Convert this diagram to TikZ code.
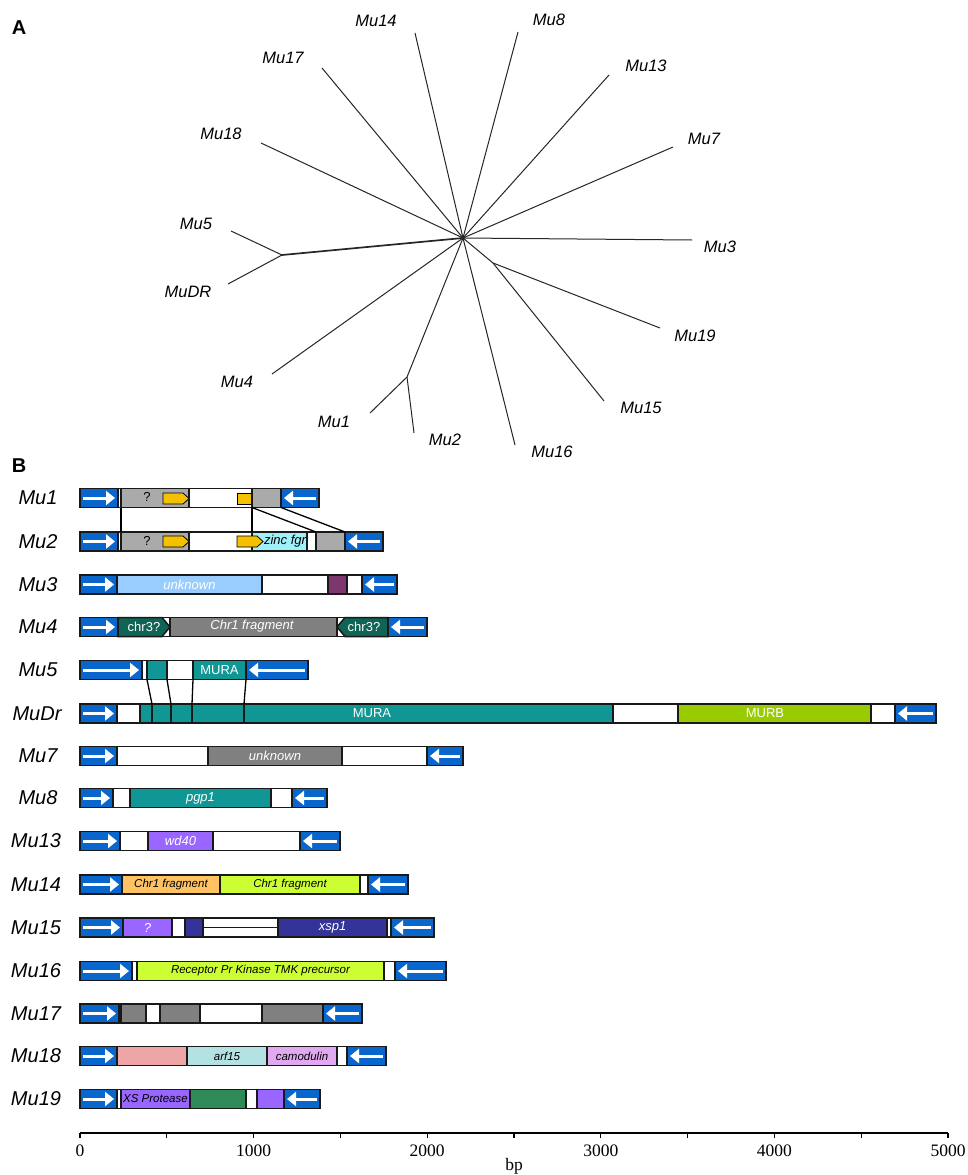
\documentclass[tikz,border=0pt]{standalone}
\usepackage{fontspec}
\setmainfont{Liberation Sans}
\newfontfamily\axisfont{Liberation Serif}
\usetikzlibrary{arrows.meta}
\definecolor{tirblue}{RGB}{8,102,204}
\definecolor{lgray}{RGB}{170,170,170}
\definecolor{dgray}{RGB}{128,128,128}
\definecolor{gold}{RGB}{245,192,0}
\definecolor{zinc}{RGB}{160,240,250}
\definecolor{lblue}{RGB}{153,204,255}
\definecolor{plum}{RGB}{125,55,110}
\definecolor{dteal}{RGB}{15,100,85}
\definecolor{tealm}{RGB}{16,150,148}
\definecolor{murb}{RGB}{153,204,0}
\definecolor{violetm}{RGB}{153,102,255}
\definecolor{lorange}{RGB}{255,195,100}
\definecolor{limem}{RGB}{204,255,51}
\definecolor{navym}{RGB}{51,51,153}
\definecolor{pinkm}{RGB}{238,165,165}
\definecolor{lcyan}{RGB}{180,225,225}
\definecolor{lviolet}{RGB}{225,170,240}
\definecolor{greenm}{RGB}{46,139,87}
\newcounter{segc}
\newcommand{\seg}[6]{\stepcounter{segc}%
  \draw[bar,fill=#4] (#1,#3-9.5) rectangle (#2,#3+9.5);
  \node[#5] (s\arabic{segc}) at ({(#1+#2)/2},#3) {#6};}
\newcommand{\tirR}[3]{\draw[bar,fill=tirblue] (#1,#3-9.5) rectangle (#2,#3+9.5);
  \draw[tirarrow] (#1+3,#3) -- (#2-3,#3);}
\newcommand{\tirL}[3]{\draw[bar,fill=tirblue] (#1,#3-9.5) rectangle (#2,#3+9.5);
  \draw[tirarrow] (#2-3,#3) -- (#1+3,#3);}
\begin{document}
\begin{tikzpicture}[x=1pt,y=-1pt,
  bar/.style={draw=black!90,line width=1.5pt},
  tirarrow/.style={draw=white,line width=3pt,-{Triangle[length=9pt,width=14pt,fill=white]}},
  tline/.style={draw=black!85,line width=1pt},
  tlab/.style={font=\fontsize{16.5}{16.5}\selectfont\itshape,inner sep=0pt},
  rowlab/.style={font=\fontsize{20}{20}\selectfont\itshape,inner sep=0pt},
  itw/.style={font=\fontsize{13}{13}\selectfont\itshape,text=white,inner sep=0pt},
  upw/.style={font=\fontsize{13}{13}\selectfont,text=white,inner sep=0pt},
  itb/.style={font=\fontsize{13}{13}\selectfont\itshape,text=black,inner sep=0pt},
  smb/.style={font=\fontsize{11.5}{11.5}\selectfont\itshape,text=black,inner sep=0pt},
  upb/.style={font=\fontsize{13}{13}\selectfont,text=black,inner sep=0pt},
  nolab/.style={inner sep=0pt},
  ytick/.style={draw=black,line width=1.2pt},
  axlab/.style={font=\axisfont\fontsize{17.5}{17.5}\selectfont,inner sep=0pt},
  panel/.style={font=\fontsize{20}{20}\selectfont\bfseries,inner sep=0pt},
  yarrow/.style={draw=black,line width=0.8pt,fill=gold},
  conn/.style={draw=black,line width=1.3pt}
]
\useasboundingbox (0,0) rectangle (968,1175);
\fill[white] (0,0) rectangle (968,1175);
% ---------------- panel labels
\node[panel] (pA) at (19,28) {A};
\node[panel] (pB) at (19,466) {B};
% ---------------- tree A
\coordinate (C) at (463,238);
\coordinate (e14) at (415,33);
\coordinate (e8) at (518,32);
\coordinate (e17) at (322,68);
\coordinate (e13) at (609,75);
\coordinate (e18) at (261,143);
\coordinate (e7) at (673,147);
\coordinate (e3) at (692,240);
\coordinate (n56) at (282,255);
\coordinate (e5) at (231,231);
\coordinate (eDR) at (228,284);
\coordinate (e4) at (272,374);
\coordinate (n12) at (407,377);
\coordinate (e1) at (370,413);
\coordinate (e2) at (414,433);
\coordinate (e16) at (515,445);
\coordinate (nj) at (493,263);
\coordinate (e19) at (660,328);
\coordinate (e15) at (604,401);
\draw[tline] (C) -- (e14);
\draw[tline] (C) -- (e8);
\draw[tline] (C) -- (e17);
\draw[tline] (C) -- (e13);
\draw[tline] (C) -- (e18);
\draw[tline] (C) -- (e7);
\draw[tline] (C) -- (e3);
\draw[tline,line width=1.7pt] (C) -- (n56);
\draw[tline] (n56) -- (e5);
\draw[tline] (n56) -- (eDR);
\draw[tline] (C) -- (e4);
\draw[tline] (C) -- (n12);
\draw[tline] (n12) -- (e1);
\draw[tline] (n12) -- (e2);
\draw[tline] (C) -- (e16);
\draw[tline] (C) -- (nj);
\draw[tline] (nj) -- (e19);
\draw[tline] (nj) -- (e15);
\node[tlab] (t14) at (376,21) {Mu14};
\node[tlab] (t8) at (549,20) {Mu8};
\node[tlab] (t17) at (283,58) {Mu17};
\node[tlab] (t13) at (646,66) {Mu13};
\node[tlab] (t18) at (221,134) {Mu18};
\node[tlab] (t7) at (704,139) {Mu7};
\node[tlab] (t5) at (196,224) {Mu5};
\node[tlab] (t3) at (720,247) {Mu3};
\node[tlab] (tDR) at (188,292) {MuDR};
\node[tlab] (t19) at (695,336) {Mu19};
\node[tlab] (t4) at (237,382) {Mu4};
\node[tlab] (t15) at (641,408) {Mu15};
\node[tlab] (t1) at (334,422) {Mu1};
\node[tlab] (t2) at (445,440) {Mu2};
\node[tlab] (t16) at (552,452) {Mu16};
% ---------------- row labels
\node[rowlab] (r1) at (38,498) {Mu1};
\node[rowlab] (r2) at (38,541.5) {Mu2};
\node[rowlab] (r3) at (38,584.5) {Mu3};
\node[rowlab] (r4) at (38,627) {Mu4};
\node[rowlab] (r5) at (38,670) {Mu5};
\node[rowlab] (rDr) at (37,713.5) {MuDr};
\node[rowlab] (r7) at (38,756) {Mu7};
\node[rowlab] (r8) at (38,798) {Mu8};
\node[rowlab] (r13) at (36,841) {Mu13};
\node[rowlab] (r14) at (36,884.5) {Mu14};
\node[rowlab] (r15) at (36,927.5) {Mu15};
\node[rowlab] (r16) at (36,971) {Mu16};
\node[rowlab] (r17) at (36,1013.5) {Mu17};
\node[rowlab] (r18) at (36,1056) {Mu18};
\node[rowlab] (r19) at (36,1099) {Mu19};
% ---------------- Mu1
\tirR{80}{118}{498}
\seg{118}{121}{498}{white}{nolab}{}
\seg{121}{189}{498}{lgray}{nolab}{}
\node[upb] (q1) at (147,497) {?};
\draw[yarrow] (163,493) -- (183,493) -- (189,498.5) -- (183,504) -- (163,504) -- cycle;
\seg{189}{252}{498}{white}{nolab}{}
\draw[yarrow] (237,493) rectangle (252,504);
\seg{252}{281}{498}{lgray}{nolab}{}
\tirL{281}{319}{498}
% ---------------- Mu2
\tirR{80}{118}{541.5}
\seg{118}{121}{541.5}{white}{nolab}{}
\seg{121}{189}{541.5}{lgray}{nolab}{}
\node[upb] (q2) at (147,540.5) {?};
\draw[yarrow] (163,536) -- (183,536) -- (189,541.5) -- (183,547) -- (163,547) -- cycle;
\seg{189}{252}{541.5}{white}{nolab}{}
\seg{252}{307}{541.5}{zinc}{nolab}{}
\node[itb] (zf) at (285,541) {zinc fgr};
\draw[yarrow] (237,536) -- (257,536) -- (263,541.5) -- (257,547) -- (237,547) -- cycle;
\seg{307}{316}{541.5}{white}{nolab}{}
\seg{316}{345}{541.5}{lgray}{nolab}{}
\tirL{345}{383}{541.5}
% connectors Mu1-Mu2
\coordinate (a1) at (121,507.5); \coordinate (a2) at (121,532);
\coordinate (b1) at (252,507.5); \coordinate (b2) at (252,532);
\coordinate (c2) at (316,532);
\coordinate (d1) at (281,507.5); \coordinate (d2) at (345,532);
\draw[conn] (a1) -- (a2);
\draw[conn] (b1) -- (b2);
\draw[conn] (b1) -- (c2);
\draw[conn] (d1) -- (d2);
% ---------------- Mu3
\tirR{80}{117}{584.5}
\seg{117}{262}{584.5}{lblue}{itw}{unknown}
\seg{262}{328}{584.5}{white}{nolab}{}
\seg{328}{347}{584.5}{plum}{nolab}{}
\seg{347}{362}{584.5}{white}{nolab}{}
\tirL{362}{397}{584.5}
% ---------------- Mu4
\tirR{80}{118}{627}
\draw[bar,fill=white] (118,617.5) rectangle (388,636.5);
\draw[bar,fill=dgray] (170,617.5) rectangle (337,636.5);
\draw[bar,fill=dteal] (118,617.5) -- (162,617.5) -- (170,627) -- (162,636.5) -- (118,636.5) -- cycle;
\draw[bar,fill=dteal] (388,617.5) -- (345,617.5) -- (337,627) -- (345,636.5) -- (388,636.5) -- cycle;
\node[upw] (c3a) at (144,627) {chr3?};
\node[itw] (cf4) at (252,626) {Chr1 fragment};
\node[upw] (c3b) at (364,627) {chr3?};
\tirL{388}{427}{627}
% ---------------- Mu5
\tirR{80}{142}{670}
\seg{142}{147}{670}{white}{nolab}{}
\seg{147}{167}{670}{tealm}{nolab}{}
\seg{167}{193}{670}{white}{nolab}{}
\seg{193}{246}{670}{tealm}{upw}{MURA}
\tirL{246}{308}{670}
% ---------------- MuDr
\tirR{80}{117}{713.5}
\seg{117}{140}{713.5}{white}{nolab}{}
\seg{140}{152}{713.5}{tealm}{nolab}{}
\seg{152}{171}{713.5}{tealm}{nolab}{}
\seg{171}{192}{713.5}{tealm}{nolab}{}
\seg{192}{244}{713.5}{tealm}{nolab}{}
\seg{244}{613}{713.5}{tealm}{nolab}{}
\node[upw] (mura) at (372,713.5) {MURA};
\seg{613}{678}{713.5}{white}{nolab}{}
\seg{678}{871}{713.5}{murb}{nolab}{}
\node[upw] (murbt) at (765,713.5) {MURB};
\seg{871}{895}{713.5}{white}{nolab}{}
\tirL{895}{936}{713.5}
% connectors Mu5-MuDr
\coordinate (f1) at (147,679.5); \coordinate (f2) at (152,704);
\coordinate (g1) at (167,679.5); \coordinate (g2) at (171,704);
\coordinate (h1) at (193,679.5); \coordinate (h2) at (192,704);
\coordinate (k1) at (246,679.5); \coordinate (k2) at (244,704);
\draw[conn] (f1) -- (f2);
\draw[conn] (g1) -- (g2);
\draw[conn] (h1) -- (h2);
\draw[conn] (k1) -- (k2);
% ---------------- Mu7
\tirR{80}{117}{756}
\seg{117}{208}{756}{white}{nolab}{}
\seg{208}{342}{756}{dgray}{itw}{unknown}
\seg{342}{427}{756}{white}{nolab}{}
\tirL{427}{463}{756}
% ---------------- Mu8
\tirR{80}{113}{798}
\seg{113}{130}{798}{white}{nolab}{}
\seg{130}{271}{798}{tealm}{itw}{pgp1}
\seg{271}{292}{798}{white}{nolab}{}
\tirL{292}{327}{798}
% ---------------- Mu13
\tirR{80}{120}{841}
\seg{120}{148}{841}{white}{nolab}{}
\seg{148}{213}{841}{violetm}{itw}{wd40}
\seg{213}{300}{841}{white}{nolab}{}
\tirL{300}{340}{841}
% ---------------- Mu14
\tirR{80}{122}{884.5}
\seg{122}{220}{884.5}{lorange}{smb}{Chr1 fragment}
\seg{220}{360}{884.5}{limem}{smb}{Chr1 fragment}
\seg{360}{368}{884.5}{white}{nolab}{}
\tirL{368}{408}{884.5}
% ---------------- Mu15
\tirR{80}{123}{927.5}
\seg{123}{172}{927.5}{violetm}{itw}{?}
\seg{172}{185}{927.5}{white}{nolab}{}
\seg{185}{203}{927.5}{navym}{nolab}{}
\draw[bar,fill=white] (203,918) rectangle (278,927.5);
\draw[bar,fill=white] (203,927.5) rectangle (278,937);
\seg{278}{387}{927.5}{navym}{itw}{xsp1}
\seg{387}{391}{927.5}{white}{nolab}{}
\tirL{391}{434}{927.5}
% ---------------- Mu16
\tirR{80}{132}{971}
\seg{132}{137}{971}{white}{nolab}{}
\seg{137}{384}{971}{limem}{smb}{Receptor Pr Kinase TMK precursor}
\seg{384}{395}{971}{white}{nolab}{}
\tirL{395}{446}{971}
% ---------------- Mu17
\tirR{80}{119}{1013.5}
\seg{119}{121}{1013.5}{white}{nolab}{}
\seg{121}{146}{1013.5}{dgray}{nolab}{}
\seg{146}{160}{1013.5}{white}{nolab}{}
\seg{160}{200}{1013.5}{dgray}{nolab}{}
\seg{200}{262}{1013.5}{white}{nolab}{}
\seg{262}{323}{1013.5}{dgray}{nolab}{}
\tirL{323}{362}{1013.5}
% ---------------- Mu18
\tirR{80}{117}{1056}
\seg{117}{187}{1056}{pinkm}{nolab}{}
\seg{187}{267}{1056}{lcyan}{smb}{arf15}
\seg{267}{337}{1056}{lviolet}{smb}{camodulin}
\seg{337}{347}{1056}{white}{nolab}{}
\tirL{347}{386}{1056}
% ---------------- Mu19
\tirR{80}{117}{1099}
\seg{117}{121}{1099}{white}{nolab}{}
\seg{121}{190}{1099}{violetm}{smb}{XS Protease}
\seg{190}{246}{1099}{greenm}{nolab}{}
\seg{246}{257}{1099}{white}{nolab}{}
\seg{257}{284}{1099}{violetm}{nolab}{}
\tirL{284}{320}{1099}
% ---------------- axis
\coordinate (ax0) at (80,1133);
\coordinate (ax1) at (948,1133);
\draw[ytick,line width=1.5pt] (ax0) -- (ax1);
\foreach \i in {0,1,...,10} {
  \draw[ytick] (80+86.8*\i,1133) -- (80+86.8*\i,1138);
}
\foreach \i/\t in {0/0,1/1000,2/2000,3/3000,4/4000,5/5000} {
  \node[axlab] (x\i) at (80+173.6*\i,1151) {\t};
}
\node[axlab] (bp) at (514,1166) {bp};
\end{tikzpicture}
\end{document}
